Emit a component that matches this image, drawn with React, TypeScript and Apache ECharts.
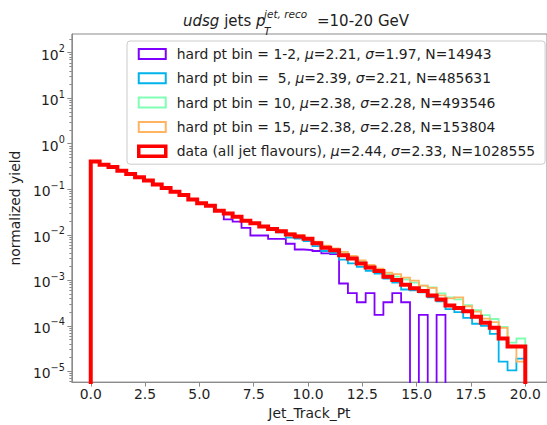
import React, { useEffect, useRef } from 'react';
import * as echarts from 'echarts';

// ---- data -------------------------------------------------------------
const N_BINS = 49;
const X_LO = 0;
const X_HI = 20;

const SERIES_NAMES = [
  'hard pt bin = 1-2, μ=2.21, σ=1.97, N=14943',
  'hard pt bin =  5, μ=2.39, σ=2.21, N=485631',
  'hard pt bin = 10, μ=2.38, σ=2.28, N=493546',
  'hard pt bin = 15, μ=2.38, σ=2.28, N=153804',
  'data (all jet flavours), μ=2.44, σ=2.33, N=1028555',
];

const BIN_1_2 = [
  0.40, 0.345, 0.305, 0.256, 0.222, 0.183, 0.155, 0.131, 0.107, 0.088,
  0.0765, 0.0600, 0.0490, 0.0425, 0.0333, 0.0217, 0.0194, 0.0141, 0.00964, 0.00964,
  0.00813, 0.00813, 0.00634, 0.00474, 0.00462, 0.00440, 0.00389, 0.00374, 0.000849, 0.000522,
  0.000329, 0.000522, 0.000173, 0.000329, 0.000522, 0.000329, 0, 0.000173, 0, 0.000173,
  0, 0, 0, 0, 0, 0, 0, 0, 0,
];

const BIN_5 = [
  0.405, 0.343, 0.305, 0.255, 0.216, 0.182, 0.154, 0.127, 0.106, 0.0875,
  0.074, 0.0595, 0.049, 0.0428, 0.0333, 0.0290, 0.0246, 0.0201, 0.0175, 0.0148,
  0.0128, 0.01125, 0.00863, 0.00822, 0.00725, 0.00565, 0.00440, 0.00398, 0.00285, 0.00234,
  0.00198, 0.00162, 0.00140, 0.00109, 0.000891, 0.000628, 0.000598, 0.000541, 0.000421, 0.000345,
  0.000232, 0.000200, 0.000150, 0.000111, 0.0000993, 0.0000665, 0.0000164, 0.0000105, 0.0000191,
];

const BIN_10 = [
  0.406, 0.345, 0.305, 0.256, 0.217, 0.183, 0.155, 0.127, 0.107, 0.0878,
  0.0748, 0.0597, 0.0494, 0.0432, 0.0338, 0.0294, 0.0250, 0.0206, 0.0179, 0.0152,
  0.0135, 0.01225, 0.01054, 0.00931, 0.00801, 0.00673, 0.00551, 0.00474, 0.00389, 0.00318,
  0.00254, 0.00208, 0.00171, 0.00136, 0.00120, 0.00104, 0.000891, 0.000767, 0.000695, 0.000515,
  0.000422, 0.000382, 0.000283, 0.000220, 0.000172, 0.000141, 0.0000944, 0.0000425, 0.0000526,
];

const BIN_15 = [
  0.405, 0.344, 0.306, 0.255, 0.216, 0.183, 0.154, 0.127, 0.107, 0.088,
  0.0745, 0.0598, 0.0495, 0.0433, 0.0340, 0.0296, 0.0252, 0.0207, 0.0180, 0.0153,
  0.0136, 0.01225, 0.01081, 0.00977, 0.00842, 0.00708, 0.00579, 0.00499, 0.00419, 0.00343,
  0.00274, 0.00219, 0.00179, 0.00147, 0.00136, 0.00114, 0.000986, 0.000767, 0.000678, 0.000466,
  0.000401, 0.000422, 0.000269, 0.000205, 0.000144, 0.000121, 0.0000897, 0.0000366, 0.0000164,
];

const DATA_ALL = [
  0.407, 0.344, 0.306, 0.255, 0.216, 0.183, 0.155, 0.127, 0.107, 0.0879,
  0.0746, 0.0598, 0.0495, 0.0431, 0.0336, 0.0293, 0.0249, 0.0204, 0.0178, 0.0151,
  0.0134, 0.0119, 0.0101, 0.00917, 0.00813, 0.00647, 0.00519, 0.00456, 0.00356, 0.00300,
  0.00234, 0.00191, 0.00160, 0.00120, 0.00102, 0.000794, 0.000671, 0.000578, 0.000461, 0.000376,
  0.000279, 0.000247, 0.000210, 0.000158, 0.000117, 0.0000912, 0.0000526, 0.0000353, 0.0000353,
];

const X_TICKS = [0, 2.5, 5, 7.5, 10, 12.5, 15, 17.5, 20];
const Y_TICKS = [1e-5, 1e-4, 1e-3, 1e-2, 1e-1, 1, 10, 100];

const X_MIN = -0.87;
const X_MAX = 21;
const Y_MIN = 5.8e-6;
const Y_MAX = 257;
const FLOOR = 1e-9;

// ---- style --------------------------------------------------------------
const FONT = '"DejaVu Sans", sans-serif';
const TEXT = '#1e1e1e';
const SPINE = '#8a8a8a';
const COLORS = ['#8000ff', '#00b4eb', '#80ffb4', '#ffb462', '#ff0000'];
const WIDTHS = [1.8, 1.8, 1.8, 1.8, 4];

export default function App() {
  const ref = useRef<HTMLDivElement>(null);

  useEffect(() => {
    if (!ref.current) return;
    const chart = echarts.init(ref.current, undefined, { renderer: 'svg' });

    const edges = Array.from({ length: N_BINS + 1 }, (_, i) => X_LO + ((X_HI - X_LO) * i) / N_BINS);
    const stepData = (vals: number[]) => {
      const pts: [number, number][] = [[edges[0], FLOOR]];
      vals.forEach((v, i) => {
        const y = v > 0 ? v : FLOOR;
        pts.push([edges[i], y], [edges[i + 1], y]);
      });
      pts.push([edges[N_BINS], FLOOR]);
      return pts;
    };

    const allSeries = [BIN_1_2, BIN_5, BIN_10, BIN_15, DATA_ALL];

    const minorTicks: number[] = [];
    for (let k = -6; k <= 2; k++) {
      for (let m = 2; m <= 9; m++) {
        const v = m * Math.pow(10, k);
        if (v > Y_MIN && v < Y_MAX) minorTicks.push(v);
      }
    }

    const supText = (e: number) => (e < 0 ? '−' + String(-e) : String(e));

    chart.setOption({
      animation: false,
      backgroundColor: '#ffffff',
      grid: {
        left: 70,
        top: 34,
        right: -8.5,
        bottom: 38,
        show: true,
        borderColor: SPINE,
        borderWidth: 1,
        backgroundColor: 'transparent',
        containLabel: false,
      },
      xAxis: {
        type: 'value',
        min: X_MIN,
        max: X_MAX,
        name: 'Jet_Track_Pt',
        nameLocation: 'middle',
        nameGap: 17,
        nameTextStyle: { fontFamily: FONT, fontSize: 13.9, color: TEXT },
        axisLine: { show: true, onZero: false, lineStyle: { color: SPINE, width: 1 } },
        axisTick: { show: true, customValues: X_TICKS, length: 4.5, lineStyle: { color: SPINE } },
        axisLabel: {
          customValues: X_TICKS,
          formatter: (v: number) => v.toFixed(1),
          fontFamily: FONT,
          fontSize: 13.9,
          color: TEXT,
          margin: 5,
        },
        splitLine: { show: false },
      },
      yAxis: [
        {
          type: 'log',
          logBase: 10,
          min: Y_MIN,
          max: Y_MAX,
          position: 'left',
          name: 'normalized yield',
          nameLocation: 'middle',
          nameGap: 44,
          nameTextStyle: { fontFamily: FONT, fontSize: 13.9, color: TEXT },
          axisLine: { show: true, onZero: false, lineStyle: { color: SPINE, width: 1 } },
          axisTick: { show: true, customValues: Y_TICKS, length: 4.5, lineStyle: { color: SPINE } },
          axisLabel: {
            customValues: Y_TICKS,
            margin: 7,
            formatter: (v: number) => {
              const e = Math.round(Math.log10(v));
              return '{b|10}{s|' + supText(e) + '}';
            },
            rich: {
              b: { fontFamily: FONT, fontSize: 13.9, color: TEXT, lineHeight: 18, verticalAlign: 'bottom' },
              s: { fontFamily: FONT, fontSize: 9.7, color: TEXT, lineHeight: 8, verticalAlign: 'top' },
            },
          },
          splitLine: { show: false },
        },
        {
          type: 'log',
          logBase: 10,
          min: Y_MIN,
          max: Y_MAX,
          position: 'left',
          offset: 0,
          axisLine: { show: false, onZero: false },
          axisTick: { show: true, customValues: minorTicks, length: 2.5, lineStyle: { color: SPINE } },
          axisLabel: { show: false },
          splitLine: { show: false },
        },
      ],
      legend: {
        orient: 'vertical',
        left: 127,
        top: 41,
        padding: [5, 10, 5, 10],
        itemWidth: 27,
        itemHeight: 10,
        itemGap: 8.3,
        selectedMode: false,
        backgroundColor: 'rgba(255,255,255,0.85)',
        borderColor: '#cccccc',
        borderWidth: 1,
        borderRadius: 3,
        data: SERIES_NAMES.map((n, i) => ({
          name: n,
          icon: 'rect',
          itemStyle: { color: '#ffffff', borderColor: COLORS[i], borderWidth: i === 4 ? 3.5 : 2 },
        })),
        formatter: (n: string) => '{g|}' + n.replace(/μ/g, '{i|μ}').replace(/σ/g, '{i|σ}'),
        textStyle: {
          fontFamily: FONT,
          fontSize: 13.9,
          color: TEXT,
          lineHeight: 16,
          rich: {
            g: { width: 6 },
            i: { fontFamily: FONT, fontSize: 13.9, color: TEXT, fontStyle: 'italic' },
          },
        },
      },
      graphic: [
        {
          type: 'text',
          x: 183,
          y: 21,
          style: {
            text: '{it|udsg} jets {it|p}',
            font: '15px "DejaVu Sans"',
            fill: TEXT,
            verticalAlign: 'middle',
            rich: { it: { fontStyle: 'italic', fontFamily: FONT, fontSize: 15, fill: TEXT } },
          },
        },
        {
          type: 'text',
          x: 264,
          y: 13.5,
          style: { text: 'jet, reco', font: 'italic 10.5px "DejaVu Sans"', fill: TEXT, verticalAlign: 'middle' },
        },
        {
          type: 'text',
          x: 264,
          y: 30.5,
          style: { text: 'T', font: 'italic 10.5px "DejaVu Sans"', fill: TEXT, verticalAlign: 'middle' },
        },
        {
          type: 'text',
          x: 317,
          y: 21,
          style: { text: '=10-20 GeV', font: '15px "DejaVu Sans"', fill: TEXT, verticalAlign: 'middle' },
        },
      ],
      series: allSeries.map((vals, i) => ({
        name: SERIES_NAMES[i],
        type: 'line',
        xAxisIndex: 0,
        yAxisIndex: 0,
        data: stepData(vals),
        showSymbol: false,
        symbol: 'none',
        clip: true,
        color: COLORS[i],
        lineStyle: { color: COLORS[i], width: WIDTHS[i], join: 'miter' },
        z: 2 + i,
        silent: true,
      })),
    });

    return () => chart.dispose();
  }, []);

  return <div ref={ref} style={{ position: 'fixed', left: 0, top: 0, width: 547, height: 425 }} />;
}
